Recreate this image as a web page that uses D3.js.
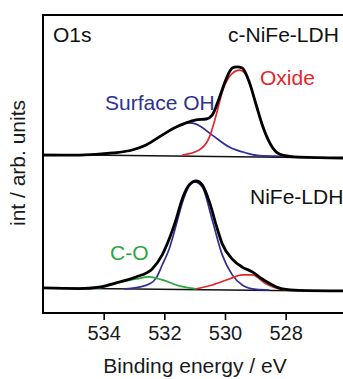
<!DOCTYPE html>
<html>
<head>
<meta charset="utf-8">
<script src="https://cdn.jsdelivr.net/npm/d3@7"></script>
<style>
  body { margin: 0; background: #fff; }
  text { font-family: "Liberation Sans", Arial, sans-serif; }
</style>
</head>
<body>
<div id="chart"></div>
<script>
// binding energy (eV) / intensity (arb. units) pairs
var topExp = [[536.0, 53.0], [534.8, 53.0], [533.7, 53.7], [533.06, 54.7], [532.6, 56.4], [532.07, 59.7],
  [531.61, 62.4], [531.28, 63.8], [530.95, 64.8], [530.62, 65.1], [530.42, 66.4], [530.19, 72.1],
  [529.95, 78.8], [529.76, 82.2], [529.6, 82.6], [529.43, 82.2], [529.2, 77.5], [528.97, 69.8],
  [528.77, 63.1], [528.54, 57.4], [528.31, 54.0], [528.11, 53.0], [527.55, 52.3], [526.0, 52.0]];
var topOH = [[534.8, 53.0], [533.7, 53.7], [533.06, 54.7], [532.6, 56.4], [532.07, 59.7], [531.61, 62.4],
  [531.41, 63.3], [531.18, 63.8], [530.95, 63.4], [530.42, 59.7], [529.86, 55.7], [529.3, 53.7],
  [528.87, 52.8], [528.11, 52.6]];
var topOxide = [[531.41, 53.0], [530.85, 54.7], [530.51, 59.1], [530.29, 66.4], [530.09, 74.2],
  [529.86, 79.2], [529.53, 81.5], [529.3, 79.9], [529.1, 74.2], [528.87, 66.4], [528.64, 59.7],
  [528.44, 55.4], [528.21, 53.4], [527.88, 52.7]];
var topBg = [[536.0, 53.2], [526.0, 52.0]];

var botExp = [[536.0, 8.4], [534.81, 8.2], [534.15, 8.7], [533.49, 10.4], [532.93, 12.1], [532.4, 14.8],
  [532.07, 19.5], [531.84, 24.8], [531.61, 31.5], [531.41, 38.3], [531.18, 43.0], [530.95, 44.3],
  [530.75, 43.0], [530.51, 37.2], [530.29, 29.5], [530.09, 23.2], [529.76, 18.1], [529.43, 15.4],
  [529.1, 13.8], [528.77, 11.4], [528.44, 9.4], [528.11, 8.1], [527.55, 7.6], [526.0, 7.4]];
var botOH = [[533.32, 8.1], [532.83, 8.7], [532.5, 9.7], [532.27, 11.7], [532.07, 16.1], [531.84, 21.5],
  [531.61, 29.5], [531.41, 36.9], [531.18, 42.6], [531.02, 44.1], [530.75, 42.3], [530.42, 31.2],
  [530.09, 19.5], [529.76, 12.8], [529.43, 9.4], [528.97, 7.9], [528.54, 7.7]];
var botCO = [[534.48, 8.2], [534.15, 8.4], [533.39, 10.4], [532.93, 11.4], [532.5, 12.1], [532.07, 11.1],
  [531.51, 9.1], [530.95, 8.1]];
var botOxide = [[530.95, 8.1], [530.42, 9.4], [529.86, 11.4], [529.43, 12.8], [529.1, 12.8],
  [528.64, 9.7], [528.21, 8.1], [527.88, 7.7]];
var botBg = [[536.0, 8.4], [526.0, 7.3]];

var xTicks = [534, 532, 530, 528];

var W = 343, H = 379;
var margin = { top: 15, left: 43, bottom: 66 };
var plotW = 303.3, plotH = H - margin.top - margin.bottom;

var svg = d3.select("#chart").append("svg")
  .attr("width", W)
  .attr("height", H);

var x = d3.scaleLinear().domain([536, 526]).range([margin.left, margin.left + plotW]);
var y = d3.scaleLinear().domain([0, 100]).range([margin.top + plotH, margin.top]);

svg.append("clipPath").attr("id", "clip")
  .append("rect")
  .attr("x", margin.left).attr("y", margin.top)
  .attr("width", plotW).attr("height", plotH);

var line = d3.line()
  .x(function (d) { return x(d[0]); })
  .y(function (d) { return y(d[1]); })
  .curve(d3.curveMonotoneX);

var plot = svg.append("g").attr("clip-path", "url(#clip)");

// backgrounds, fitted components, then the measured curves on top
var series = [
  { data: topBg, color: "#111", width: 1.6 },
  { data: botBg, color: "#111", width: 1.6 },
  { data: topOH, color: "#2e2e96", width: 1.7 },
  { data: topOxide, color: "#e3262a", width: 1.7 },
  { data: botOH, color: "#2e2e96", width: 1.7 },
  { data: botCO, color: "#2aa63e", width: 1.7 },
  { data: botOxide, color: "#e3262a", width: 1.7 },
  { data: topExp, color: "#000", width: 2.8 },
  { data: botExp, color: "#000", width: 2.8 }
];
series.forEach(function (s) {
  plot.append("path")
    .datum(s.data)
    .attr("d", line)
    .attr("fill", "none")
    .attr("stroke", s.color)
    .attr("stroke-width", s.width)
    .attr("stroke-linejoin", "round");
});

// frame
svg.append("rect")
  .attr("x", margin.left).attr("y", margin.top)
  .attr("width", plotW).attr("height", plotH)
  .attr("fill", "none").attr("stroke", "#000").attr("stroke-width", 2);

// x axis
var xAxis = svg.append("g")
  .attr("transform", "translate(0," + (margin.top + plotH) + ")")
  .call(d3.axisBottom(x).tickValues(xTicks).tickSize(7).tickPadding(6).tickFormat(d3.format("d")));
xAxis.select(".domain").remove();
xAxis.selectAll(".tick line").attr("stroke", "#000").attr("stroke-width", 1.6);
xAxis.selectAll(".tick text")
  .attr("fill", "#1a1a1a")
  .style("font-size", "20px")
  .style("font-family", "'Liberation Sans', Arial, sans-serif");

svg.append("text")
  .attr("x", 195).attr("y", 373)
  .attr("text-anchor", "middle")
  .style("font-size", "21px")
  .attr("fill", "#1a1a1a")
  .text("Binding energy / eV");

svg.append("text")
  .attr("transform", "translate(25,163) rotate(-90)")
  .attr("text-anchor", "middle")
  .style("font-size", "21px")
  .attr("fill", "#1a1a1a")
  .text("int / arb. units");

// annotations
var labels = [
  { t: "O1s", x: 53, y: 42, c: "#111" },
  { t: "c-NiFe-LDH", x: 228, y: 42, c: "#111" },
  { t: "Oxide", x: 260, y: 85, c: "#e3262a" },
  { t: "Surface OH", x: 105, y: 110, c: "#2e3192" },
  { t: "NiFe-LDH", x: 250, y: 204, c: "#111" },
  { t: "C-O", x: 110, y: 260, c: "#2aa63e" }
];
labels.forEach(function (l) {
  svg.append("text")
    .attr("x", l.x).attr("y", l.y)
    .style("font-size", "21px")
    .attr("fill", l.c)
    .text(l.t);
});
</script>
</body>
</html>
